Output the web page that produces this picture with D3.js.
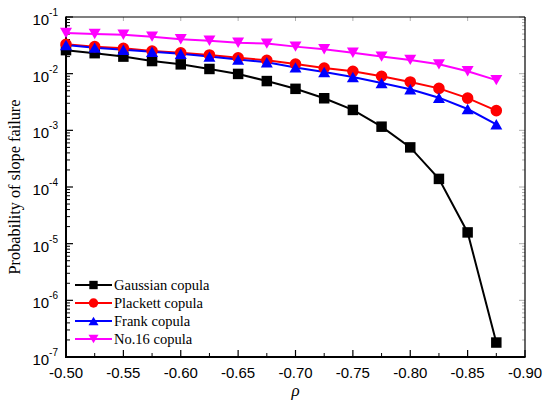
<!DOCTYPE html>
<html><head><meta charset="utf-8">
<script src="https://cdn.jsdelivr.net/npm/d3@7"></script>
<style>
html,body{margin:0;padding:0;background:#fff;}
svg{display:block;}
</style></head>
<body><svg id="c" width="543" height="401"></svg>
<script>
const rho = [-0.500,-0.525,-0.550,-0.575,-0.600,-0.625,-0.650,-0.675,-0.700,-0.725,-0.750,-0.775,-0.800,-0.825,-0.850,-0.875];
const gaussian = [0.026,0.023,0.020,0.0167,0.0146,0.0121,0.0099,0.0074,0.0054,0.00368,0.00229,0.00116,0.00050,1.39e-4,1.58e-5,1.8e-7];
const plackett = [0.033,0.030,0.028,0.025,0.0234,0.0214,0.0191,0.0172,0.0148,0.0126,0.0110,0.0090,0.00714,0.0055,0.0037,0.00223];
const frank = [0.032,0.0288,0.0265,0.0244,0.0225,0.0200,0.0177,0.0159,0.0129,0.0107,0.0087,0.00685,0.0053,0.00377,0.00238,0.00128];
const no16 = [0.052,0.050,0.0488,0.045,0.0404,0.0382,0.0352,0.0339,0.030,0.0269,0.0234,0.020,0.0175,0.0146,0.0110,0.0077];
const seriesNames = ["Gaussian copula","Plackett copula","Frank copula","No.16 copula"];
const xTicks = [-0.50,-0.55,-0.60,-0.65,-0.70,-0.75,-0.80,-0.85,-0.90];
const yExps = [-1,-2,-3,-4,-5,-6,-7];

const series = [
  {name:seriesNames[0], vals:gaussian, color:"#000000", sym:d3.symbolSquare},
  {name:seriesNames[1], vals:plackett, color:"#ff0000", sym:d3.symbolCircle},
  {name:seriesNames[2], vals:frank, color:"#0000ff", sym:"up"},
  {name:seriesNames[3], vals:no16, color:"#ff00ff", sym:"down"}
];

const svg = d3.select("#c");
const L=66, R=525, T=17, B=357;
const x = d3.scaleLinear().domain([-0.5,-0.9]).range([L,R]);
const y = d3.scaleLog().domain([1e-1,1e-7]).range([T,B]);

function tri(size, down){
  const h = size*0.87, w = size;
  return down ? `M${-w/2},${-h/2}L${w/2},${-h/2}L0,${h/2}Z` : `M${-w/2},${h/2}L${w/2},${h/2}L0,${-h/2}Z`;
}
function markerPath(sym, big){
  if(sym==="up") return tri(big?12:10,false);
  if(sym==="down") return tri(big?12:10,true);
  if(sym===d3.symbolSquare) return d3.symbol(sym, big?110:70)();
  return d3.symbol(sym, big?105:70)();
}

// minor ticks (log)
const minorY = [];
for(let e=-7;e<-1;e++){ for(let m=2;m<=9;m++) minorY.push(m*Math.pow(10,e)); }
const gAx = svg.append("g");
// top & right gray ticks
const gray="#b0b0b0";
xTicks.forEach(v=>{ gAx.append("line").attr("x1",x(v)).attr("x2",x(v)).attr("y1",T).attr("y2",T+4).attr("stroke",gray).attr("stroke-width",1); });
minorY.forEach(v=>{ gAx.append("line").attr("x1",R).attr("x2",R-3).attr("y1",y(v)).attr("y2",y(v)).attr("stroke",gray).attr("stroke-width",1); });
yExps.forEach(e=>{ gAx.append("line").attr("x1",R).attr("x2",R-6).attr("y1",y(Math.pow(10,e))).attr("y2",y(Math.pow(10,e))).attr("stroke",gray).attr("stroke-width",1); });
// frame top/right
gAx.append("line").attr("x1",L).attr("x2",R).attr("y1",T).attr("y2",T).attr("stroke","#000").attr("stroke-width",1.2);
gAx.append("line").attr("x1",R).attr("x2",R).attr("y1",T).attr("y2",B).attr("stroke","#000").attr("stroke-width",1.2);

// left axis
minorY.forEach(v=>{ gAx.append("line").attr("x1",L).attr("x2",L+4).attr("y1",y(v)).attr("y2",y(v)).attr("stroke","#000").attr("stroke-width",1); });
yExps.forEach(e=>{
  const yy=y(Math.pow(10,e));
  gAx.append("line").attr("x1",L).attr("x2",L+7).attr("y1",yy).attr("y2",yy).attr("stroke","#000").attr("stroke-width",1.2);
  const t = gAx.append("text").attr("x",L-8).attr("y",yy+8).attr("text-anchor","end")
    .attr("font-family","Liberation Sans, Arial, sans-serif").attr("font-size",15).attr("fill","#000");
  t.append("tspan").text("10");
  t.append("tspan").attr("dy",-9).attr("font-size",10).text(String(e));
});
gAx.append("line").attr("x1",L).attr("x2",L).attr("y1",T-0.6).attr("y2",B+1).attr("stroke","#000").attr("stroke-width",2);

// bottom axis
const minorX = d3.range(0,8).map(i=>-0.525-0.05*i);
minorX.forEach(v=>{ gAx.append("line").attr("x1",x(v)).attr("x2",x(v)).attr("y1",B).attr("y2",B-4).attr("stroke","#000").attr("stroke-width",1); });
xTicks.forEach(v=>{
  gAx.append("line").attr("x1",x(v)).attr("x2",x(v)).attr("y1",B).attr("y2",B-7).attr("stroke","#000").attr("stroke-width",1.2);
  gAx.append("text").attr("x",x(v)).attr("y",B+21).attr("text-anchor","middle")
    .attr("font-family","Liberation Sans, Arial, sans-serif").attr("font-size",15).attr("fill","#000")
    .text(v.toFixed(2));
});
gAx.append("line").attr("x1",L-1).attr("x2",R+0.6).attr("y1",B).attr("y2",B).attr("stroke","#000").attr("stroke-width",2);

// axis titles
svg.append("text").attr("transform",`translate(20,187) rotate(-90)`).attr("text-anchor","middle")
  .attr("font-family","Liberation Serif, Times New Roman, serif").attr("font-size",16.3).attr("fill","#000")
  .text("Probability of slope failure");
svg.append("text").attr("x",x(-0.7)).attr("y",396).attr("text-anchor","middle")
  .attr("font-family","Liberation Serif, Times New Roman, serif").attr("font-style","italic").attr("font-size",17).attr("fill","#000")
  .text("ρ");

// series
const line = d3.line().x((d,i)=>x(rho[i])).y(d=>y(d));
series.forEach(s=>{
  svg.append("path").datum(s.vals).attr("d",line).attr("fill","none").attr("stroke",s.color).attr("stroke-width",2);
});
series.forEach(s=>{
  svg.append("g").selectAll("path").data(s.vals).join("path")
    .attr("transform",(d,i)=>`translate(${x(rho[i])},${y(d)})`)
    .attr("d",markerPath(s.sym,true)).attr("fill",s.color);
});

// legend
const lg = svg.append("g");
series.forEach((s,i)=>{
  const yy = 285 + i*18;
  lg.append("line").attr("x1",75).attr("x2",112).attr("y1",yy).attr("y2",yy).attr("stroke",s.color).attr("stroke-width",2);
  lg.append("path").attr("transform",`translate(93.5,${yy})`).attr("d",markerPath(s.sym,false)).attr("fill",s.color);
  lg.append("text").attr("x",114).attr("y",yy+5).attr("font-family","Liberation Serif, Times New Roman, serif")
    .attr("font-size",14.5).attr("fill","#000").text(s.name);
});
</script></body></html>
